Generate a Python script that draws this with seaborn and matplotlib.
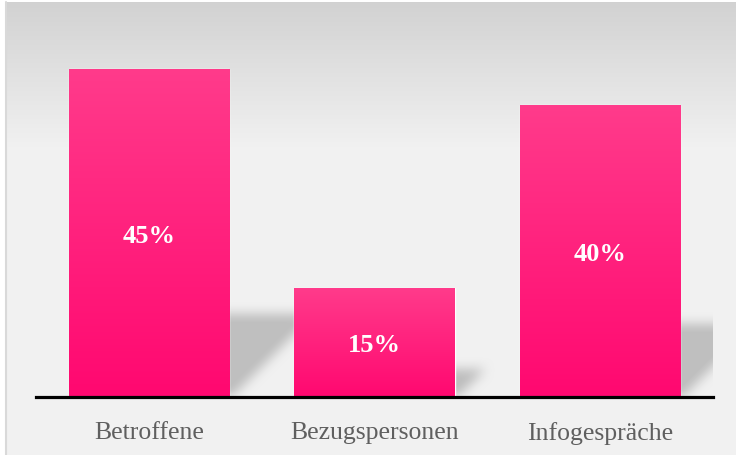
import numpy as np
import pandas as pd
import matplotlib
matplotlib.use("Agg")
import matplotlib.pyplot as plt
from matplotlib.colors import LinearSegmentedColormap
import seaborn as sns

categories = ["Betroffene", "Bezugspersonen", "Infogespräche"]
values = [45, 15, 40]
value_labels = ["45%", "15%", "40%"]

sns.set_theme(style="white")
plt.rcParams["font.family"] = ["Liberation Serif", "DejaVu Serif"]

W, H = 736, 456
fig = plt.figure(figsize=(W / 100, H / 100), dpi=100)
fig.patch.set_facecolor("white")

# background panel with vertical gradient
bg = fig.add_axes([6 / W, 0, 1 - 6 / W, (H - 3) / H], zorder=0)
bg.set_axis_off()
rows = np.linspace(0, 1, 453)
g = np.clip(rows / 0.33, 0, 1)
top_c = np.array([0.823, 0.823, 0.823])
bot_c = np.array([0.949, 0.949, 0.949])
grad = top_c[None, :] * (1 - g[:, None]) + bot_c[None, :] * g[:, None]
bg.imshow(grad[:, None, :], aspect="auto", extent=[0, 1, 0, 1], origin="upper")
bg.set_xlim(0, 1)
bg.set_ylim(0, 1)
fig.add_artist(plt.Line2D([6.5 / W, 6.5 / W], [0, (H - 3) / H], color="#d9d9d9", lw=1.5,
                          transform=fig.transFigure))

# main axes
ax_left = 36.25 / W
ax_w = 676.5 / W
ax_bottom = 58 / H
ax_h = 364.5 / H
ax = fig.add_axes([ax_left, ax_bottom, ax_w, ax_h], zorder=2)
ax.patch.set_alpha(0)

df = pd.DataFrame({"cat": categories, "val": values})
sns.barplot(data=df, x="cat", y="val", color="#ff2080", width=0.71, ax=ax,
            saturation=1, zorder=3)
ax.set_xlim(-0.5, 2.5)
ax.set_ylim(0, 50)

# bar gradient
cmap = LinearSegmentedColormap.from_list("pink", ["#ff0870", "#ff3b8b"])
gradimg = np.linspace(0, 1, 256)[:, None]
for p in ax.patches:
    x0, y0 = p.get_x(), p.get_y()
    w, h = p.get_width(), p.get_height()
    im = ax.imshow(gradimg, cmap=cmap, aspect="auto", origin="lower",
                   extent=[x0, x0 + w, y0, y0 + h], zorder=3.5)
    im.set_clip_path(p)

# soft shadows (triangles cast to the right of each bar)
px_x = ax_w * W / 3.0
px_y = ax_h * H / 50.0
shadow_rgb = np.array([0.75, 0.75, 0.75])
for p, v in zip(ax.patches, values):
    xr = p.get_x() + p.get_width()
    Hs = 0.25 * v * px_y
    blur = 6
    u = np.arange(-12, Hs + 3 * blur)
    vv = np.arange(0, Hs + 3 * blur)
    U, V = np.meshgrid(u, vv)
    mask = ((U <= V + 2) & (V <= Hs)).astype(float)
    k = np.ones(2 * blur + 1) / (2 * blur + 1)
    for _ in range(2):
        mask = np.apply_along_axis(lambda r: np.convolve(r, k, mode="same"), 1, mask)
        mask = np.apply_along_axis(lambda c: np.convolve(c, k, mode="same"), 0, mask)
    rgba = np.zeros(mask.shape + (4,))
    rgba[..., :3] = shadow_rgb
    rgba[..., 3] = np.clip(mask * 1.05, 0, 1)
    ax.imshow(rgba, origin="lower", aspect="auto", interpolation="bilinear",
              extent=[xr + u[0] / px_x, xr + (u[-1] + 1) / px_x, 0, (vv[-1] + 1) / px_y],
              zorder=1)

ax.set_xlim(-0.5, 2.5)
ax.set_ylim(0, 50)

# value labels
for p, lab in zip(ax.patches, value_labels):
    ax.text(p.get_x() + p.get_width() / 2, p.get_height() / 2 - 0.35, lab,
            ha="center", va="center", color="white", fontsize=19,
            fontweight="bold", zorder=5)

for s in ["top", "right", "left"]:
    ax.spines[s].set_visible(False)
ax.spines["bottom"].set_color("black")
ax.spines["bottom"].set_linewidth(2.3)
ax.spines["bottom"].set_zorder(6)
ax.set_yticks([])
ax.set_xlabel("")
ax.set_ylabel("")
ax.tick_params(axis="x", length=0, pad=17, labelsize=18.5, labelcolor="#5f5f5f")

fig.savefig("out.png", dpi=100)
